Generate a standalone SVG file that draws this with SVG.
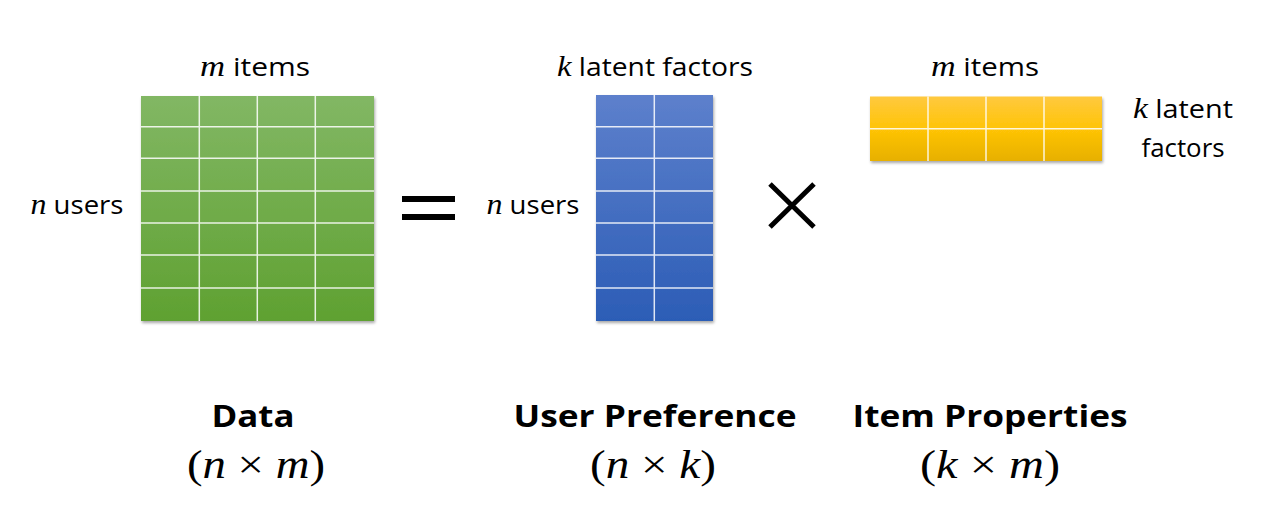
<svg xmlns="http://www.w3.org/2000/svg" width="1280" height="519" viewBox="0 0 1280 519">
  <defs>
    <linearGradient id="gGreen" x1="0" y1="0" x2="0" y2="1">
      <stop offset="0" stop-color="#82b764"/>
      <stop offset="1" stop-color="#5fa131"/>
    </linearGradient>
    <linearGradient id="gBlue" x1="0" y1="0" x2="0" y2="1">
      <stop offset="0" stop-color="#5d80cc"/>
      <stop offset="1" stop-color="#2c5db6"/>
    </linearGradient>
    <linearGradient id="gYellow" x1="0" y1="0" x2="0" y2="1">
      <stop offset="0" stop-color="#ffc93f"/>
      <stop offset="0.5" stop-color="#ffc407"/>
      <stop offset="1" stop-color="#e7b000"/>
    </linearGradient>
    <filter id="shadow" x="-10%" y="-10%" width="120%" height="120%">
      <feGaussianBlur in="SourceAlpha" stdDeviation="1.5"/>
      <feOffset dx="0.5" dy="1.5" result="b"/>
      <feComponentTransfer><feFuncA type="linear" slope="0.35"/></feComponentTransfer>
      <feMerge><feMergeNode/><feMergeNode in="SourceGraphic"/></feMerge>
    </filter>
  </defs>
  <style>
    .grid { stroke: #ffffff; stroke-width: 1.5; fill: none; stroke-opacity: 0.85; }
    .lbl { font-family: "Open Sans", "Liberation Sans", sans-serif; font-size: 25px; fill: #000; }
    .ttl { font-family: "Open Sans", "Liberation Sans", sans-serif; font-size: 31px; font-weight: bold; fill: #000; }
    .math { font-family: "Liberation Serif", "DejaVu Serif", serif; font-style: italic; font-size: 29px; }
    .dim { font-family: "Liberation Serif", "DejaVu Serif", serif; font-size: 39px; fill: #000; }
    .dim .math { font-size: 39px; }
    .op { fill: #000; }
  </style>
  <rect width="1280" height="519" fill="#ffffff"/>

  <g id="data-matrix">
    <rect x="141" y="96" width="233" height="225" fill="url(#gGreen)" filter="url(#shadow)"/>
    <path class="grid" d="M199.3 96V321M257.3 96V321M315.3 96V321M141 126.7H374M141 158.3H374M141 191H374M141 223H374M141 255H374M141 288H374"/>
    <text class="lbl" x="255" y="76" text-anchor="middle" textLength="110" lengthAdjust="spacingAndGlyphs"><tspan class="math">m</tspan> items</text>
    <text class="lbl" x="77" y="214" text-anchor="middle" textLength="93" lengthAdjust="spacingAndGlyphs"><tspan class="math">n</tspan> users</text>
    <text class="ttl" x="253" y="427" text-anchor="middle" textLength="83" lengthAdjust="spacingAndGlyphs">Data</text>
    <text class="dim" x="256" y="478" text-anchor="middle" textLength="138" lengthAdjust="spacingAndGlyphs">(<tspan class="math">n</tspan> × <tspan class="math">m</tspan>)</text>
  </g>

  <g id="equals">
    <rect class="op" x="402" y="196" width="53" height="6"/>
    <rect class="op" x="402" y="214" width="53" height="6"/>
  </g>

  <g id="user-matrix">
    <rect x="596" y="95" width="117" height="226" fill="url(#gBlue)" filter="url(#shadow)"/>
    <path class="grid" d="M654.3 95V321M596 126.7H713M596 158.3H713M596 191H713M596 223H713M596 255H713M596 288H713"/>
    <text class="lbl" x="655" y="76" text-anchor="middle" textLength="196" lengthAdjust="spacingAndGlyphs"><tspan class="math">k</tspan> latent factors</text>
    <text class="lbl" x="533" y="214" text-anchor="middle" textLength="93" lengthAdjust="spacingAndGlyphs"><tspan class="math">n</tspan> users</text>
    <text class="ttl" x="655" y="427" text-anchor="middle" textLength="283" lengthAdjust="spacingAndGlyphs">User Preference</text>
    <text class="dim" x="653" y="478" text-anchor="middle" textLength="126" lengthAdjust="spacingAndGlyphs">(<tspan class="math">n</tspan> × <tspan class="math">k</tspan>)</text>
  </g>

  <g id="times">
    <path d="M770 184L814 227M814 184L770 227" stroke="#000" stroke-width="5" fill="none"/>
  </g>

  <g id="item-matrix">
    <rect x="870" y="96.5" width="232" height="64.5" fill="url(#gYellow)" filter="url(#shadow)"/>
    <path class="grid" d="M928 96.5V161M986 96.5V161M1044 96.5V161M870 128.7H1102"/>
    <text class="lbl" x="985" y="76" text-anchor="middle" textLength="108" lengthAdjust="spacingAndGlyphs"><tspan class="math">m</tspan> items</text>
    <text class="lbl" x="1183" y="118" text-anchor="middle" textLength="100" lengthAdjust="spacingAndGlyphs"><tspan class="math">k</tspan> latent</text>
    <text class="lbl" x="1183" y="157" text-anchor="middle" textLength="83" lengthAdjust="spacingAndGlyphs">factors</text>
    <text class="ttl" x="990" y="427" text-anchor="middle" textLength="275" lengthAdjust="spacingAndGlyphs">Item Properties</text>
    <text class="dim" x="990" y="478" text-anchor="middle" textLength="140" lengthAdjust="spacingAndGlyphs">(<tspan class="math">k</tspan> × <tspan class="math">m</tspan>)</text>
  </g>
</svg>
